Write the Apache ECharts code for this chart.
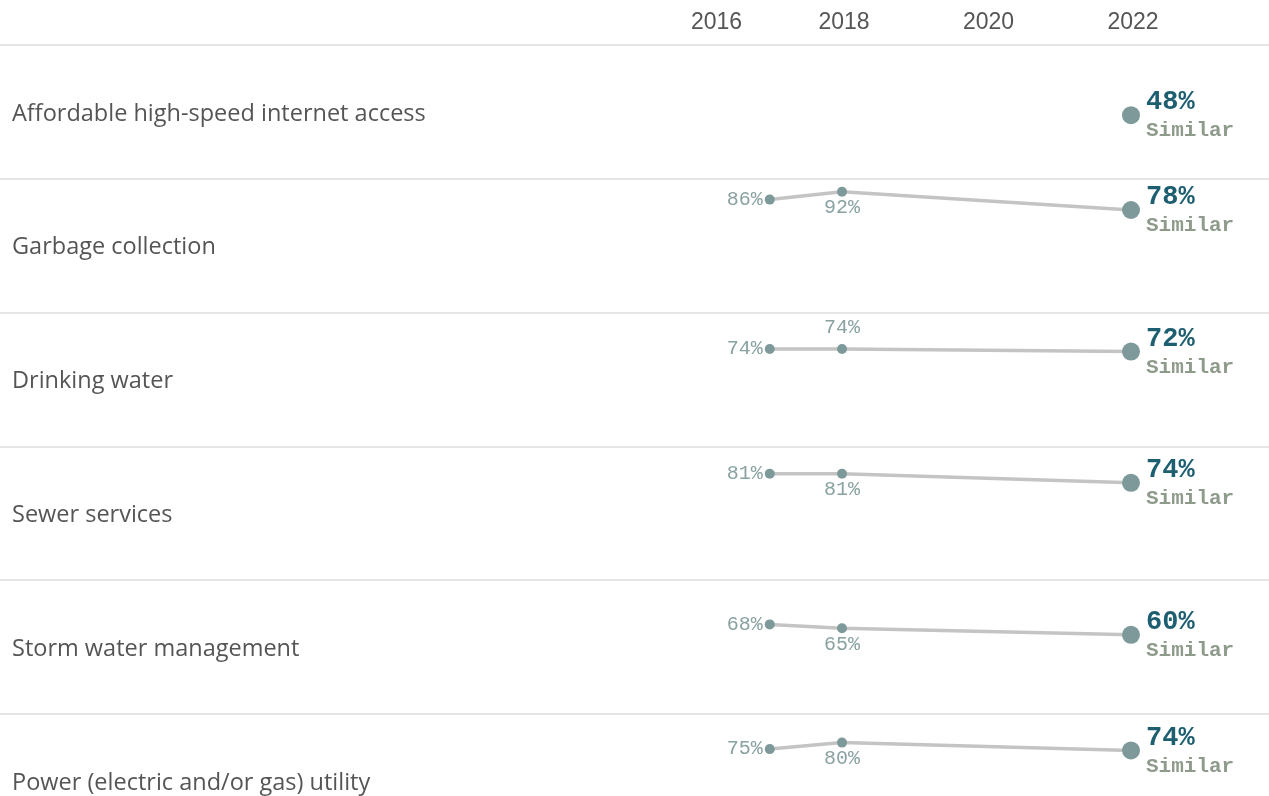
<!DOCTYPE html>
<html>
<head>
<meta charset="utf-8">
<script src="https://cdn.jsdelivr.net/npm/echarts@6/dist/echarts.min.js"></script>
<style>
  html, body { margin: 0; padding: 0; background: #fff; width: 1269px; height: 796px; overflow: hidden; }
  #chart { width: 1269px; height: 860px; }
</style>
</head>
<body>
<div id="chart"></div>
<script>
// ---- data ----
const categories = [
  'Affordable high-speed internet access',
  'Garbage collection',
  'Drinking water',
  'Sewer services',
  'Storm water management',
  'Power (electric and/or gas) utility'
];
const dataYears = [2017, 2018, 2022];
const values2017 = [null, 86, 74, 81, 68, 75];
const values2018 = [null, 92, 74, 81, 65, 80];
const values2022 = [48, 78, 72, 74, 60, 74];
const statusLabels = ['Similar', 'Similar', 'Similar', 'Similar', 'Similar', 'Similar'];
const yearTicks = [2016, 2018, 2020, 2022];

// ---- style / layout ----
const midLabelSide = ['bottom', 'bottom', 'top', 'bottom', 'bottom', 'bottom'];
const rowTop0 = 45, rowStep = 133.8, rowH = 132.6;
const monoFont = '"Liberation Mono", "DejaVu Sans Mono", monospace';
const sansFont = '"Open Sans", "Noto Sans", sans-serif';
const axisFont = '"Liberation Sans", Arial, sans-serif';
const dotColor = '#7d9999';
const lineColor = '#c4c4c4';
const smallLabelColor = '#8aa2a2';

const grids = [], xAxes = [], yAxes = [], series = [], titles = [];
categories.forEach((cat, i) => {
  const top = rowTop0 + i * rowStep;
  grids.push({ left: 0, right: 0, top: top, height: rowH });
  xAxes.push({
    type: 'value', gridIndex: i, min: 2006.346, max: 2023.91, position: 'top',
    axisLine: { show: true, onZero: false, lineStyle: { color: '#dcdcdc', width: 1.5 } },
    axisTick: { show: false },
    splitLine: { show: false },
    axisLabel: {
      show: i === 0,
      customValues: yearTicks,
      margin: 11,
      fontFamily: axisFont,
      fontSize: 23,
      color: '#555555',
      formatter: v => v === yearTicks[0] ? '{first|' + v + '}' : '{n|' + v + '}',
      rich: {
        first: { padding: [0, 0, 0, 38], fontFamily: axisFont, fontSize: 23, color: '#555555' },
        n: { padding: [0, 0, 0, 4], fontFamily: axisFont, fontSize: 23, color: '#555555' }
      }
    }
  });
  yAxes.push({ type: 'value', gridIndex: i, min: 0, max: 102, show: false });

  const vals = [values2017[i], values2018[i], values2022[i]];
  const items = [];
  vals.forEach((v, j) => {
    if (v === null) return;
    let label;
    if (j === 0) {
      label = { show: true, position: 'left', distance: 2, formatter: v + '%',
        fontFamily: monoFont, fontSize: 20, color: smallLabelColor };
    } else if (j === 1) {
      label = { show: true, position: midLabelSide[i], distance: midLabelSide[i] === 'top' ? 6 : 1,
        formatter: v + '%', fontFamily: monoFont, fontSize: 20, color: smallLabelColor };
    } else {
      label = { show: true, position: 'right', distance: 6, offset: [0, 2],
        formatter: '{a|' + v + '%}\n{b|' + statusLabels[i] + '}',
        rich: {
          a: { fontFamily: monoFont, fontWeight: 'bold', fontSize: 27, lineHeight: 28, color: '#1d5e70' },
          b: { fontFamily: monoFont, fontWeight: 'bold', fontSize: 21, lineHeight: 29, color: '#8e9b8b' }
        } };
    }
    items.push({ value: [dataYears[j], v], symbolSize: j === 2 ? 18 : 10, label: label });
  });
  series.push({
    type: 'line', xAxisIndex: i, yAxisIndex: i, data: items,
    symbol: 'circle', showSymbol: true, silent: true, animation: false,
    lineStyle: { color: lineColor, width: 3.5 },
    itemStyle: { color: dotColor },
    z: 3
  });
  titles.push({
    text: cat, left: 12, top: top + 54, padding: 0,
    textStyle: { fontFamily: sansFont, fontSize: 23.5, fontWeight: 'normal', color: '#555555', lineHeight: 30 }
  });
});

const chart = echarts.init(document.getElementById('chart'));
chart.setOption({
  backgroundColor: '#ffffff',
  animation: false,
  title: titles,
  grid: grids,
  xAxis: xAxes,
  yAxis: yAxes,
  series: series
});
</script>
</body>
</html>
